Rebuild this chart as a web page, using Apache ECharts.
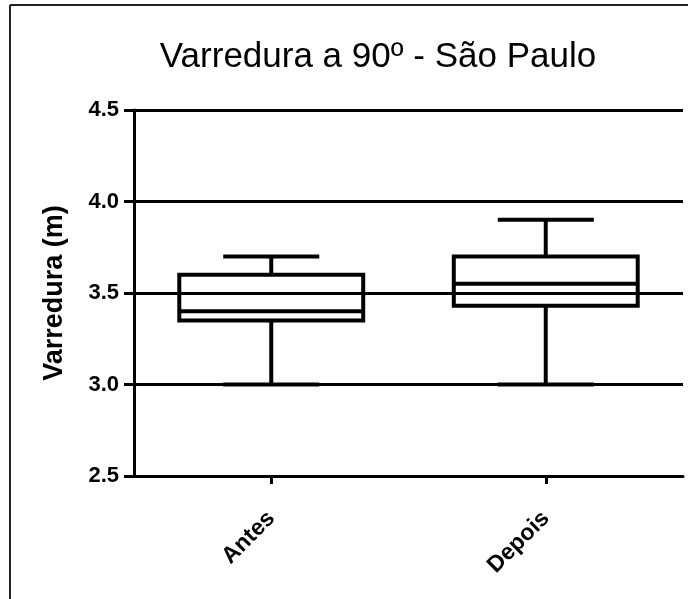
<!DOCTYPE html>
<html>
<head>
<meta charset="utf-8">
<script src="https://cdn.jsdelivr.net/npm/echarts@6/dist/echarts.min.js"></script>
<style>
html,body{margin:0;padding:0;background:#fff;}
#c{width:688px;height:599px;}
</style>
</head>
<body>
<div id="c"></div>
<script>
const categories = ['Antes', 'Depois'];
const minVals = [3.0, 3.0];
const q1Vals = [3.35, 3.43];
const medianVals = [3.4, 3.55];
const q3Vals = [3.6, 3.7];
const maxVals = [3.7, 3.9];
const yTicks = [2.5, 3.0, 3.5, 4.0, 4.5];

const seriesData = categories.map((c, i) => [i, minVals[i], q1Vals[i], medianVals[i], q3Vals[i], maxVals[i]]);

const chart = echarts.init(document.getElementById('c'), null, {renderer: 'canvas'});
const FONT = "'Liberation Sans', Arial, sans-serif";

function renderItem(params, api) {
  const x = api.value(0);
  const band = api.size([1, 0])[0];
  const boxHalf = band * 0.335;
  const capHalf = band * 0.175;
  const pMin = api.coord([x, api.value(1)]);
  const pQ1 = api.coord([x, api.value(2)]);
  const pMed = api.coord([x, api.value(3)]);
  const pQ3 = api.coord([x, api.value(4)]);
  const pMax = api.coord([x, api.value(5)]);
  const cx = pMin[0];
  const st = {stroke: '#000', lineWidth: 4, fill: null};
  return {
    type: 'group',
    children: [
      {type: 'rect', shape: {x: cx - boxHalf, y: pQ3[1], width: boxHalf * 2, height: pQ1[1] - pQ3[1]}, style: {stroke: '#000', lineWidth: 4, fill: 'none'}},
      {type: 'line', shape: {x1: cx - boxHalf, y1: pMed[1], x2: cx + boxHalf, y2: pMed[1]}, style: st},
      {type: 'line', shape: {x1: cx, y1: pQ3[1], x2: cx, y2: pMax[1]}, style: st},
      {type: 'line', shape: {x1: cx, y1: pQ1[1], x2: cx, y2: pMin[1]}, style: st},
      {type: 'line', shape: {x1: cx - capHalf, y1: pMax[1], x2: cx + capHalf, y2: pMax[1]}, style: st},
      {type: 'line', shape: {x1: cx - capHalf, y1: pMin[1], x2: cx + capHalf, y2: pMin[1]}, style: st}
    ]
  };
}

const option = {
  backgroundColor: '#fff',
  animation: false,
  title: {
    text: 'Varredura a 90º - São Paulo',
    left: 373,
    textAlign: 'center',
    top: 35,
    textStyle: {fontFamily: FONT, fontSize: 35, fontWeight: 'normal', color: '#000'}
  },
  grid: {left: 134, right: 5, top: 110, bottom: 123, containLabel: false},
  xAxis: {
    type: 'category',
    data: categories,
    boundaryGap: true,
    axisLine: {show: true, lineStyle: {color: '#000', width: 3}},
    axisTick: {show: true, alignWithLabel: true, length: 8, lineStyle: {color: '#000', width: 3}},
    axisLabel: {rotate: 45, margin: 39, fontFamily: FONT, fontSize: 23, fontWeight: 'bold', color: '#000'},
    splitLine: {show: false}
  },
  yAxis: {
    type: 'value',
    min: yTicks[0],
    max: yTicks[yTicks.length - 1],
    interval: 0.5,
    name: 'Varredura (m)',
    nameLocation: 'middle',
    nameGap: 66,
    nameRotate: 90,
    nameTextStyle: {fontFamily: FONT, fontSize: 27, fontWeight: 'bold', color: '#000'},
    axisLine: {show: true, lineStyle: {color: '#000', width: 3}},
    axisTick: {show: true, length: 10, lineStyle: {color: '#000', width: 3}},
    axisLabel: {margin: 15, fontFamily: FONT, fontSize: 22, fontWeight: 'bold', color: '#000', formatter: v => v.toFixed(1)},
    splitLine: {show: true, lineStyle: {color: '#000', width: 3}}
  },
  graphic: [
    {type: 'line', shape: {x1: 10, y1: 5, x2: 10, y2: 599}, style: {stroke: '#222', lineWidth: 2}},
    {type: 'line', shape: {x1: 10, y1: 5, x2: 688, y2: 5}, style: {stroke: '#222', lineWidth: 2}}
  ],
  series: [{
    type: 'custom',
    renderItem: renderItem,
    encode: {x: 0, y: [1, 2, 3, 4, 5]},
    data: seriesData,
    z: 5
  }]
};
chart.setOption(option);
</script>
</body>
</html>
